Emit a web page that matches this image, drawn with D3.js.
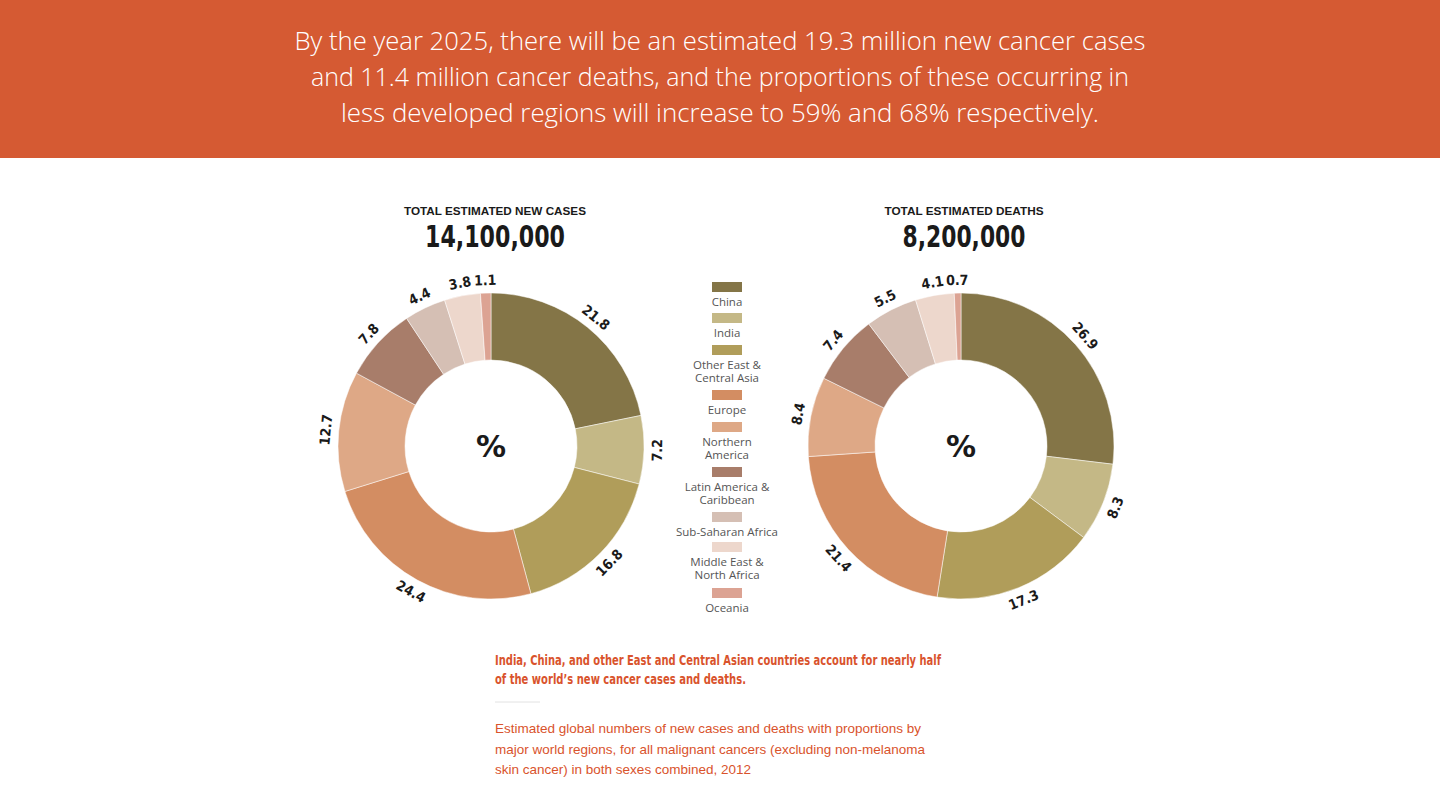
<!DOCTYPE html>
<html>
<head>
<meta charset="utf-8">
<script src="https://cdn.jsdelivr.net/npm/d3@7"></script>
<style>
  html, body { margin: 0; padding: 0; background: #fff; }
  svg { display: block; }
</style>
</head>
<body>
<svg id="chart" width="1440" height="801"></svg>
<script>
// ---- Data ----
const regions = ["China", "India", "Other East & Central Asia", "Europe", "Northern America",
  "Latin America & Caribbean", "Sub-Saharan Africa", "Middle East & North Africa", "Oceania"];
const legendLines = [["China"], ["India"], ["Other East &", "Central Asia"], ["Europe"],
  ["Northern", "America"], ["Latin America &", "Caribbean"], ["Sub-Saharan Africa"],
  ["Middle East &", "North Africa"], ["Oceania"]];
const newCasesPct = [21.8, 7.2, 16.8, 24.4, 12.7, 7.8, 4.4, 3.8, 1.1];
const deathsPct   = [26.9, 8.3, 17.3, 21.4, 8.4, 7.4, 5.5, 4.1, 0.7];
const colors = ["#847547", "#C4B886", "#B09D5A", "#D38D62", "#DEA886",
  "#A87D6A", "#D5BFB4", "#EDD7CC", "#DCA393"];
const headerLines = [
  "By the year 2025, there will be an estimated 19.3 million new cancer cases",
  "and 11.4 million cancer deaths, and the proportions of these occurring in",
  "less developed regions will increase to 59% and 68% respectively."
];
const charts = [
  { title: "TOTAL ESTIMATED NEW CASES", total: "14,100,000", values: newCasesPct, cx: 491, tx: 495, tw: 140, hw: 182 },
  { title: "TOTAL ESTIMATED DEATHS", total: "8,200,000", values: deathsPct, cx: 961, tx: 964, tw: 123, hw: 159 }
];
const noteLines = [
  "India, China, and other East and Central Asian countries account for nearly half",
  "of the world\u2019s new cancer cases and deaths."
];
const captionLines = [
  "Estimated global numbers of new cases and deaths with proportions by",
  "major world regions, for all malignant cancers (excluding non-melanoma",
  "skin cancer) in both sexes combined, 2012"
];

const svg = d3.select("#chart");
const W = 1440;
const orange = "#D55A33";
const textOrange = "#D9532C";
const condensed = "'DejaVu Sans Condensed', 'DejaVu Sans', sans-serif";

// ---- Header band ----
svg.append("rect").attr("x", 0).attr("y", 0).attr("width", W).attr("height", 158).attr("fill", orange);
const hdrW = [851, 818, 758];
headerLines.forEach((t, i) => {
  svg.append("text")
    .attr("x", W / 2).attr("y", 50 + i * 36)
    .attr("text-anchor", "middle")
    .attr("fill", "#fff")
    .attr("font-family", "'Open Sans', sans-serif")
    .attr("font-weight", 300)
    .attr("font-size", 25)
    .attr("textLength", hdrW[i]).attr("lengthAdjust", "spacingAndGlyphs")
    .text(t);
});

// ---- Donuts ----
const cy = 446, rOuter = 153, rInner = 86, rLabel = 166;
const pie = d3.pie().sort(null).value(d => d);
const arc = d3.arc().innerRadius(rInner).outerRadius(rOuter);

charts.forEach(c => {
  svg.append("text")
    .attr("x", c.tx).attr("y", 215)
    .attr("text-anchor", "middle")
    .attr("font-family", "'Liberation Sans', Arial, sans-serif")
    .attr("font-weight", 700).attr("font-size", 11)
    .attr("fill", "#1a1a1a")
    .attr("textLength", c.hw).attr("lengthAdjust", "spacingAndGlyphs")
    .text(c.title);
  svg.append("text")
    .attr("x", c.tx).attr("y", 247)
    .attr("text-anchor", "middle")
    .attr("font-family", condensed)
    .attr("font-weight", 700).attr("font-size", 31)
    .attr("fill", "#1a1a1a")
    .attr("textLength", c.tw).attr("lengthAdjust", "spacingAndGlyphs")
    .text(c.total);

  const g = svg.append("g").attr("transform", `translate(${c.cx},${cy})`);
  const arcs = pie(c.values);
  g.selectAll("path.slice").data(arcs).enter().append("path")
    .attr("class", "slice")
    .attr("d", arc)
    .attr("fill", (d, i) => colors[i])
    .attr("stroke", "#fff").attr("stroke-width", 0.5);

  g.selectAll("text.lbl").data(arcs).enter().append("text")
    .attr("class", "lbl")
    .attr("transform", d => {
      const a = (d.startAngle + d.endAngle) / 2;
      const x = rLabel * Math.sin(a), y = -rLabel * Math.cos(a);
      let deg = a * 180 / Math.PI;
      if (deg > 90 && deg < 270) deg -= 180;
      return `translate(${x},${y}) rotate(${deg})`;
    })
    .attr("text-anchor", "middle")
    .attr("dominant-baseline", "central")
    .attr("font-family", condensed)
    .attr("font-weight", 700).attr("font-size", 14)
    .attr("fill", "#1a1a1a")
    .text(d => d.data.toFixed(1));

  g.append("text")
    .attr("x", 0).attr("y", 0)
    .attr("text-anchor", "middle").attr("dominant-baseline", "central")
    .attr("font-family", "'DejaVu Sans', sans-serif")
    .attr("font-weight", 700).attr("font-size", 30)
    .attr("fill", "#1a1a1a")
    .text("%");
});

// ---- Legend ----
const legendX = 727;
const swatchY = [282, 313, 345, 390, 422, 467, 512, 542, 588];
const lg = svg.append("g");
regions.forEach((r, i) => {
  lg.append("rect")
    .attr("x", legendX - 15).attr("y", swatchY[i])
    .attr("width", 30).attr("height", 10)
    .attr("fill", colors[i]);
  legendLines[i].forEach((ln, j) => {
    lg.append("text")
      .attr("x", legendX).attr("y", swatchY[i] + 24 + j * 12.5)
      .attr("text-anchor", "middle")
      .attr("font-family", "'Open Sans', sans-serif")
      .attr("font-weight", 400).attr("font-size", 11.5)
      .attr("fill", "#555")
      .text(ln);
  });
});

// ---- Notes ----
const noteW = [446, 251];
noteLines.forEach((t, i) => {
  svg.append("text")
    .attr("x", 495).attr("y", 665 + i * 19)
    .attr("font-family", condensed)
    .attr("font-weight", 700).attr("font-size", 14)
    .attr("fill", textOrange)
    .attr("textLength", noteW[i]).attr("lengthAdjust", "spacingAndGlyphs")
    .text(t);
});
svg.append("line")
  .attr("x1", 495).attr("x2", 540).attr("y1", 702).attr("y2", 702)
  .attr("stroke", "#e2e2e2").attr("stroke-width", 1);
const capW = [426, 430, 256];
captionLines.forEach((t, i) => {
  svg.append("text")
    .attr("x", 495).attr("y", 733 + i * 20.5)
    .attr("font-family", "'Liberation Sans', Arial, sans-serif")
    .attr("font-size", 13)
    .attr("fill", textOrange)
    .attr("textLength", capW[i]).attr("lengthAdjust", "spacingAndGlyphs")
    .text(t);
});
</script>
</body>
</html>
